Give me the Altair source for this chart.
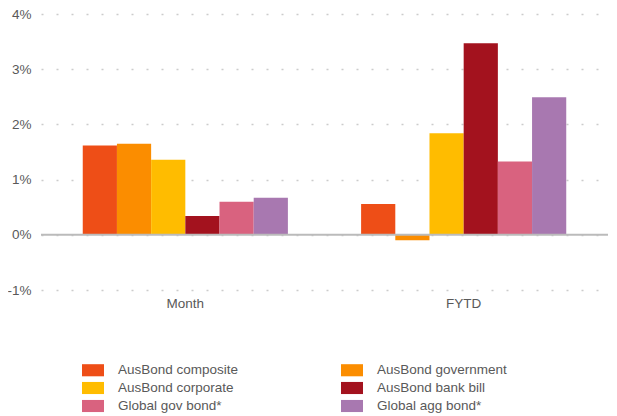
import altair as alt
import pandas as pd

periods = ["Month", "FYTD"]
series = ["AusBond composite", "AusBond government", "AusBond corporate",
          "AusBond bank bill", "Global gov bond*", "Global agg bond*"]
month_vals = [1.62, 1.65, 1.36, 0.34, 0.60, 0.67]
fytd_vals = [0.56, -0.10, 1.84, 3.47, 1.33, 2.49]
colors = ["#EE4E17", "#FB8D00", "#FFBC00", "#A3121E", "#D9627F", "#A878B0"]
y_ticks = [-1, 0, 1, 2, 3, 4]

rows = []
for s, m, f in zip(series, month_vals, fytd_vals):
    rows.append({"period": "Month", "series": s, "value": m})
    rows.append({"period": "FYTD", "series": s, "value": f})
df = pd.DataFrame(rows)

# legend fills column by column: reorder so it reads row by row
legend_order = series[0::2] + series[1::2]
legend_colors = colors[0::2] + colors[1::2]

FONT = "Liberation Sans"
TXT = "#595959"

bars = alt.Chart(df).mark_bar().encode(
    x=alt.X("period:N", sort=periods, title=None,
            scale=alt.Scale(paddingInner=0.263, paddingOuter=0.15),
            axis=alt.Axis(labelAngle=0, ticks=False, domain=False, labelPadding=6,
                          labelFontSize=13.5, labelColor=TXT, labelFont=FONT)),
    xOffset=alt.XOffset("series:N", sort=series, scale=alt.Scale(paddingInner=0, paddingOuter=0)),
    y=alt.Y("value:Q", title=None, scale=alt.Scale(domain=[-1, 4], nice=False),
            axis=alt.Axis(values=y_ticks, labelExpr="datum.value + '%'", domain=False, ticks=False,
                          labelPadding=10, labelFontSize=13.5, labelColor=TXT, labelFont=FONT,
                          gridDash=[2, 13], gridColor="#cccccc", gridWidth=1.5)),
    color=alt.Color("series:N", scale=alt.Scale(domain=legend_order, range=legend_colors),
                    legend=alt.Legend(title=None, orient="none", legendX=41, legendY=345,
                                      columns=2, columnPadding=102, rowPadding=0,
                                      symbolType="M-1,-0.55H1V0.55H-1Z", symbolSize=484,
                                      symbolStrokeWidth=0, labelOffset=14,
                                      labelFontSize=13.5, labelColor=TXT, labelFont=FONT,
                                      labelLimit=300)),
)

zero = alt.Chart(pd.DataFrame({"z": [0]})).mark_rule(color="#bbbbbb", strokeWidth=2).encode(
    y="z:Q"
)

chart = alt.layer(bars, zero).properties(
    width=567, height=276,
    autosize=alt.AutoSizeParams(type="none"),
    padding={"left": 33, "top": 6, "right": 1, "bottom": 126},
).configure_view(stroke=None)

chart.save("out.html", embed_options={"renderer": "svg", "actions": False})
